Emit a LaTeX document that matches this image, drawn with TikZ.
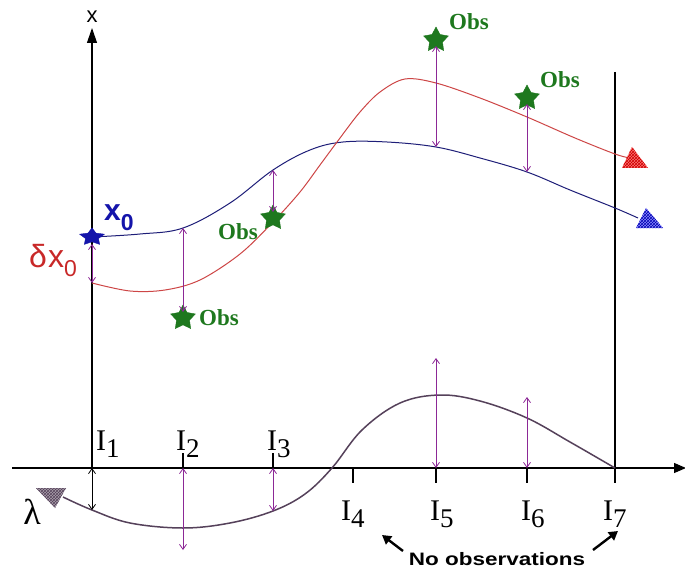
\documentclass[tikz,border=0pt]{standalone}
\usepackage{fontspec}
\setmainfont{Liberation Serif}
\newfontfamily\sansf{Liberation Sans}
\usetikzlibrary{arrows.meta,shapes.geometric,patterns}
\definecolor{obsgreen}{RGB}{30,120,30}
\definecolor{arrpurple}{RGB}{140,40,150}
\definecolor{trajblue}{RGB}{30,30,120}
\definecolor{trajred}{RGB}{205,70,70}
\definecolor{lamcol}{RGB}{85,65,90}
\definecolor{xblue}{RGB}{20,20,170}
\definecolor{xred}{RGB}{200,40,40}
\newcommand{\Ilab}[1]{{\fontsize{30}{30}\selectfont I}\raisebox{-7pt}{\fontsize{27}{27}\selectfont #1}}
\tikzset{
  dbl/.style={arrpurple, line width=0.8pt, {Straight Barb[length=5pt,width=7pt]}-{Straight Barb[length=5pt,width=7pt]}},
  dblk/.style={dbl, black},
  obsstar/.style={star, star points=5, star point ratio=1.9, fill=obsgreen, draw=obsgreen, minimum size=26pt, inner sep=0pt},
  obslabel/.style={font=\fontsize{23}{23}\selectfont\bfseries, text=obsgreen, inner sep=0pt, anchor=base west},
  ilabel/.style={inner sep=0pt, anchor=base west},
  axisline/.style={black, line width=1.1pt},
  traj/.style={line width=1pt},
  noarr/.style={black, line width=2.4pt, -{Triangle[length=9pt,width=10pt]}},
}
\begin{document}
\begin{tikzpicture}[x=1pt,y=-1pt]
\useasboundingbox (0,0) rectangle (685,572);
% axes
\coordinate (o) at (92,468);
\coordinate (ytop) at (92,28);
\coordinate (xl) at (12,468);
\coordinate (xr) at (686,468);
\draw[axisline, -{Triangle[length=15pt,width=10pt]}] (o) -- (ytop);
\draw[axisline, -{Triangle[length=12pt,width=10pt]}] (xl) -- (xr);
\node[font=\sansf\fontsize{22}{22}\selectfont, inner sep=0pt] (xlab) at (92,17) {x};
% I7 line and ticks
\coordinate (v7t) at (615,72); \coordinate (v7b) at (615,483);
\draw[axisline] (v7t) -- (v7b);
\foreach \xx/\nm in {183/t2,273/t3}{\coordinate (\nm a) at (\xx,453); \coordinate (\nm b) at (\xx,468); \draw[axisline] (\nm a) -- (\nm b);}
\foreach \xx/\nm in {353/t4,436/t5,527/t6}{\coordinate (\nm a) at (\xx,468); \coordinate (\nm b) at (\xx,483); \draw[axisline] (\nm a) -- (\nm b);}
% I labels
\node[ilabel] (I1) at (96,450) {\Ilab{1}};
\node[ilabel] (I2) at (176,450) {\Ilab{2}};
\node[ilabel] (I3) at (267,450) {\Ilab{3}};
\node[ilabel] (I4) at (341,520) {\Ilab{4}};
\node[ilabel] (I5) at (430,520) {\Ilab{5}};
\node[ilabel] (I6) at (521,520) {\Ilab{6}};
\node[ilabel] (I7) at (603,520) {\Ilab{7}};
% trajectories
\draw[traj, trajblue] plot[smooth, tension=0.6] coordinates {(92,237) (140,234) (183,228) (230,203) (273,170) (310,150) (343,142) (387,142) (436,147) (480,158) (527,172) (570,190) (615,208) (638,218)};
\draw[traj, trajred] plot[smooth, tension=0.55] coordinates {(92,283) (130,291) (165,290) (200,280) (240,254) (273,222) (300,192) (320,165) (340,138) (360,112) (380,92) (405,79) (436,83) (480,98) (527,117) (575,138) (615,154) (630,158)};
\draw[line width=1.5pt, lamcol] plot[smooth, tension=0.6] coordinates {(63,497) (92,510) (130,523) (183,528) (230,523) (273,511) (305,494) (332,468) (362,430) (400,403) (440,395) (480,401) (527,418) (570,442) (615,468)};
% end triangles
\path[preaction={fill=red!55}, pattern=crosshatch, pattern color=red!80!black] (622,168) -- (648,168) -- (632,147) -- cycle;
\path[preaction={fill=blue!45}, pattern=crosshatch, pattern color=blue!70!black] (636,228) -- (663,228) -- (646,208) -- cycle;
\path[preaction={fill=lamcol!50}, pattern=crosshatch, pattern color=lamcol] (36,488) -- (66,488) -- (55,508) -- cycle;
% stars
\node[obsstar] (s2) at (183,318) {};
\node[obsstar] (s3) at (273,218) {};
\node[obsstar] (s5) at (436,40) {};
\node[obsstar] (s6) at (527,98) {};
\node[star, star points=5, star point ratio=1.9, fill=xblue, draw=xblue, minimum size=26pt, inner sep=0pt, yscale=0.7] (s0) at (92,237) {};
% Obs labels
\node[obslabel] (o2) at (199,325) {Obs};
\node[obslabel] (o3) at (218,240) {Obs};
\node[obslabel] (o5) at (449,30) {Obs};
\node[obslabel] (o6) at (540,88) {Obs};
% x0 labels
\node[ilabel, text=xblue, font=\sansf\bfseries] (x0) at (104,220) {\fontsize{30}{30}\selectfont x\raisebox{-10pt}{\fontsize{23}{23}\selectfont 0}};
\node[ilabel, text=xred, font=\sansf] (dx0) at (29,267) {\fontsize{32}{32}\selectfont δ\hspace{1pt}x\raisebox{-9pt}{\fontsize{23}{23}\selectfont 0}};
\node[inner sep=0pt, font=\fontsize{36}{36}\selectfont] (lam) at (32,512) {λ};
% upper double arrows
\coordinate (a0t) at (92,244); \coordinate (a0b) at (92,283);
\coordinate (a2t) at (183,228); \coordinate (a2b) at (183,312);
\coordinate (a3t) at (273,170); \coordinate (a3b) at (273,212);
\coordinate (a5t) at (436,46); \coordinate (a5b) at (436,147);
\coordinate (a6t) at (527,104); \coordinate (a6b) at (527,172);
\draw[dbl] (a0t) -- (a0b);
\draw[dbl] (a2t) -- (a2b);
\draw[dbl] (a3t) -- (a3b);
\draw[dbl] (a5t) -- (a5b);
\draw[dbl] (a6t) -- (a6b);
% lower double arrows
\coordinate (b1b) at (92,510);
\coordinate (b2t) at (183,468); \coordinate (b2b) at (183,550);
\coordinate (b3t) at (273,468); \coordinate (b3b) at (273,511);
\coordinate (b5t) at (436,358); \coordinate (b5b) at (436,468);
\coordinate (b6t) at (527,397); \coordinate (b6b) at (527,468);
\draw[dblk] (o) -- (b1b);
\draw[dbl] (b2t) -- (b2b);
\draw[dbl] (b3t) -- (b3b);
\draw[dbl] (b5t) -- (b5b);
\draw[dbl] (b6t) -- (b6b);
% No observations
\node[inner sep=0pt, anchor=base] (noobs) at (497,565) {\scalebox{1.25}[1]{\sansf\bfseries\fontsize{18}{18}\selectfont No observations}};
\coordinate (nlt) at (403,551); \coordinate (nlh) at (382,535);
\coordinate (nrt) at (593,550); \coordinate (nrh) at (618,531);
\draw[noarr] (nlt) -- (nlh);
\draw[noarr] (nrt) -- (nrh);
\end{tikzpicture}
\end{document}
